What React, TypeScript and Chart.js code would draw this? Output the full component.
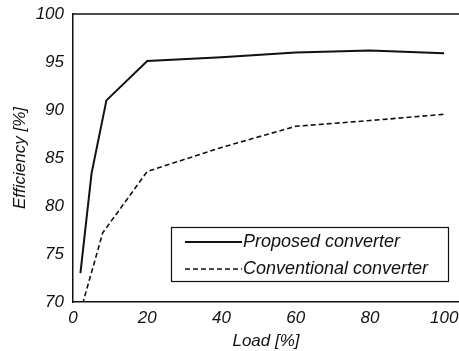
import React, { useEffect, useRef } from "react";
import { Chart, registerables } from "chart.js";

Chart.register(...registerables);

const proposedLoad = [2, 5, 9, 20, 40, 60, 80, 100];
const proposedEff = [73.0, 83.4, 91.0, 95.1, 95.5, 96.0, 96.2, 95.9];
const conventionalLoad = [2, 8, 20, 40, 60, 80, 100];
const conventionalEff = [69.0, 77.2, 83.6, 86.1, 88.3, 88.9, 89.55];
const xTicks = [0, 20, 40, 60, 80, 100];
const yTicks = [70, 75, 80, 85, 90, 95, 100];
const seriesLabels = ["Proposed converter", "Conventional converter"];

const FONT = "'Liberation Sans', Arial, Helvetica, sans-serif";

const frameAndLegend = {
  id: "frameAndLegend",
  afterDatasetsDraw(chart: any) {
    const { ctx, chartArea } = chart;
    ctx.save();
    // top border
    ctx.strokeStyle = "#111";
    ctx.lineWidth = 1.5;
    ctx.beginPath();
    ctx.moveTo(chartArea.left, chartArea.top);
    ctx.lineTo(chartArea.right, chartArea.top);
    ctx.stroke();

    // legend box
    const bx = chartArea.left + 98;
    const by = chartArea.top + 213;
    const bw = 277;
    const bh = 54;
    ctx.fillStyle = "#fff";
    ctx.fillRect(bx, by, bw, bh);
    ctx.lineWidth = 1.2;
    ctx.strokeStyle = "#111";
    ctx.strokeRect(bx + 0.5, by + 0.5, bw, bh);

    const rows = [by + 15, by + 42];
    chart.data.datasets.forEach((ds: any, i: number) => {
      const y = rows[i];
      ctx.beginPath();
      ctx.lineWidth = ds.borderWidth;
      ctx.setLineDash(ds.borderDash || []);
      ctx.moveTo(bx + 14, y);
      ctx.lineTo(bx + 71, y);
      ctx.stroke();
      ctx.setLineDash([]);
      ctx.fillStyle = "#111";
      ctx.font = `italic 18px ${FONT}`;
      ctx.textBaseline = "middle";
      ctx.textAlign = "left";
      ctx.fillText(ds.label, bx + 72, y);
    });
    ctx.restore();
  },
};

export default function App() {
  const ref = useRef<HTMLCanvasElement | null>(null);

  useEffect(() => {
    if (!ref.current) return;
    const chart = new Chart(ref.current, {
      type: "line",
      data: {
        datasets: [
          {
            label: seriesLabels[0],
            data: proposedLoad.map((x, i) => ({ x, y: proposedEff[i] })),
            borderColor: "#111",
            borderWidth: 2,
            pointRadius: 0,
            tension: 0,
            fill: false,
          },
          {
            label: seriesLabels[1],
            data: conventionalLoad.map((x, i) => ({ x, y: conventionalEff[i] })),
            borderColor: "#111",
            borderWidth: 1.6,
            borderDash: [5, 3],
            pointRadius: 0,
            tension: 0,
            fill: false,
          },
        ],
      },
      options: {
        animation: false,
        responsive: false,
        maintainAspectRatio: false,
        layout: { padding: { top: 14, right: 0, left: 0, bottom: 0 } },
        plugins: {
          legend: { display: false },
          tooltip: { enabled: false },
        },
        scales: {
          x: {
            type: "linear",
            min: 0,
            max: 104,
            afterBuildTicks: (s: any) => {
              s.ticks = xTicks.map((v) => ({ value: v }));
            },
            afterFit: (s: any) => {
              s.height = 49;
              s.paddingLeft = 0;
              s.paddingRight = 0;
            },
            grid: { display: false, drawTicks: false },
            border: { display: true, color: "#111", width: 1.5 },
            ticks: {
              padding: 6,
              color: "#111",
              font: { family: FONT, size: 17, style: "italic" },
              maxRotation: 0,
            },
            title: {
              display: true,
              text: "Load [%]",
              color: "#111",
              font: { family: FONT, size: 17, style: "italic" },
              padding: { top: 2, bottom: 0 },
            },
          },
          y: {
            type: "linear",
            min: 70,
            max: 100,
            afterBuildTicks: (s: any) => {
              s.ticks = yTicks.map((v) => ({ value: v }));
            },
            afterFit: (s: any) => {
              s.width = 73;
              s.paddingTop = 0;
              s.paddingBottom = 0;
            },
            grid: { display: false, drawTicks: false },
            border: { display: true, color: "#111", width: 1.5 },
            ticks: {
              padding: 9,
              color: "#111",
              font: { family: FONT, size: 17, style: "italic" },
            },
            title: {
              display: true,
              text: "Efficiency [%]",
              color: "#111",
              font: { family: FONT, size: 17, style: "italic" },
              padding: { top: 10, bottom: 2 },
            },
          },
        },
      },
      plugins: [frameAndLegend],
    });
    return () => chart.destroy();
  }, []);

  return (
    <div
      style={{
        position: "fixed",
        left: 0,
        top: 0,
        width: 459,
        height: 351,
        background: "#fff",
      }}
    >
      <canvas ref={ref} width={459} height={351} style={{ display: "block" }} />
    </div>
  );
}
